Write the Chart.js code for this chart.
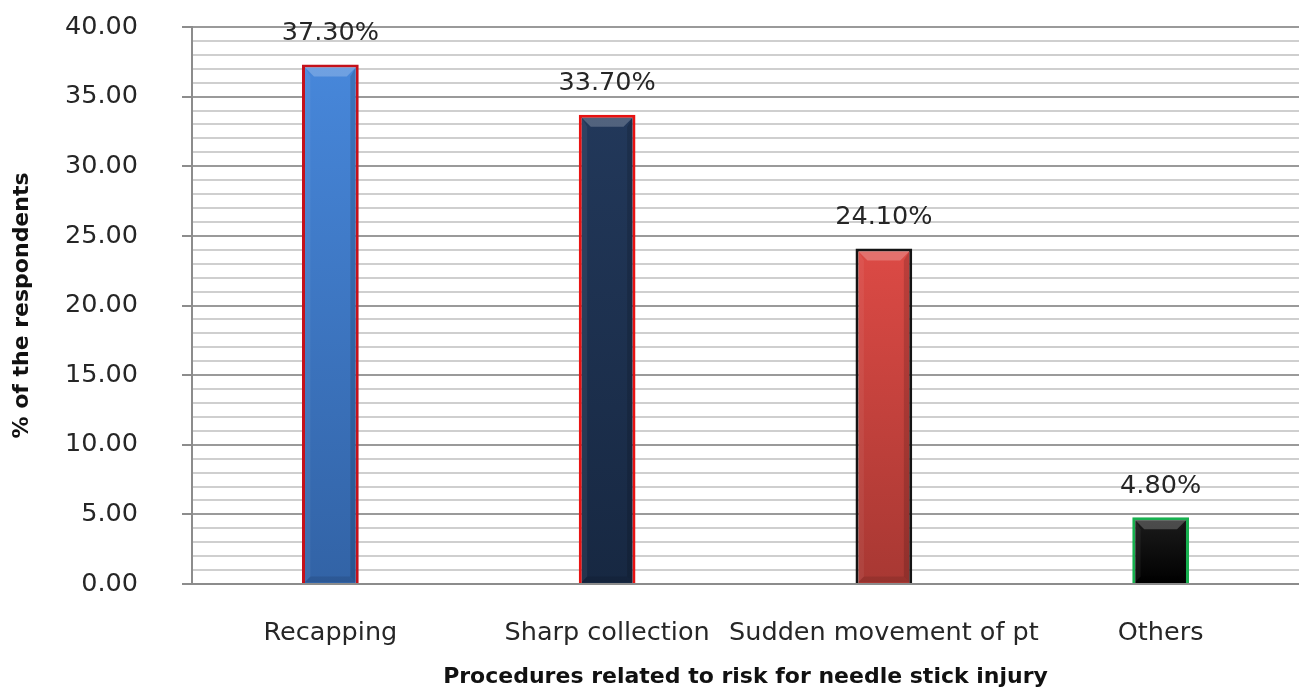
<!DOCTYPE html>
<html>
<head>
<meta charset="utf-8">
<script src="https://cdn.jsdelivr.net/npm/chart.js@4.4.1/dist/chart.umd.min.js"></script>
<style>
  html, body { margin: 0; padding: 0; background: #ffffff; }
  canvas { display: block; }
</style>
</head>
<body>
<canvas id="chart" width="1299" height="690"></canvas>
<script>
// Procedures related to risk for needle stick injury (% of respondents)
const categories = ['Recapping', 'Sharp collection', 'Sudden movement of pt', 'Others'];
const percentValues = [37.3, 33.7, 24.1, 4.8];
const valueLabels = ['37.30%', '33.70%', '24.10%', '4.80%'];

// y axis: 0 to 40, labelled every 5, minor lines every 1
const yMin = 0;
const yMax = 40;
const yMajorStep = 5;
const yMinorStep = 1;

// bar styling (top colour, bottom colour, border colour)
const barTopColors = ['#4787da', '#22385a', '#dc4a45', '#1c1c1c'];
const barBottomColors = ['#3263a6', '#172842', '#a83833', '#000000'];
const barBorderColors = ['#c4111b', '#e81212', '#141414', '#17b04f'];
const BAR_BORDER = 3;

const FONT = "'DejaVu Sans', sans-serif";

// light bevel on each bar, drawn on top of the fill
const bevelPlugin = {
  id: 'bevel',
  afterDatasetsDraw(chart) {
    const ctx = chart.ctx;
    const meta = chart.getDatasetMeta(0);
    meta.data.forEach((bar) => {
      const bw = BAR_BORDER;
      const left = bar.x - bar.width / 2 + bw;
      const right = bar.x + bar.width / 2 - bw;
      const top = bar.y + bw;
      const bottom = bar.base - 1;
      const b = Math.min(9, (bottom - top) / 2);
      ctx.save();
      // top facet
      ctx.fillStyle = 'rgba(255,255,255,0.22)';
      ctx.beginPath();
      ctx.moveTo(left, top);
      ctx.lineTo(right, top);
      ctx.lineTo(right - b, top + b);
      ctx.lineTo(left + b, top + b);
      ctx.closePath();
      ctx.fill();
      // left facet
      ctx.fillStyle = 'rgba(255,255,255,0.06)';
      ctx.beginPath();
      ctx.moveTo(left, top);
      ctx.lineTo(left + b * 0.6, top + b);
      ctx.lineTo(left + b * 0.6, bottom - b * 0.6);
      ctx.lineTo(left, bottom);
      ctx.closePath();
      ctx.fill();
      // right facet
      ctx.fillStyle = 'rgba(0,0,0,0.14)';
      ctx.beginPath();
      ctx.moveTo(right, top);
      ctx.lineTo(right - b * 0.6, top + b);
      ctx.lineTo(right - b * 0.6, bottom - b * 0.6);
      ctx.lineTo(right, bottom);
      ctx.closePath();
      ctx.fill();
      // bottom facet
      ctx.fillStyle = 'rgba(0,0,0,0.10)';
      ctx.beginPath();
      ctx.moveTo(left, bottom);
      ctx.lineTo(right, bottom);
      ctx.lineTo(right - b * 0.6, bottom - b * 0.6);
      ctx.lineTo(left + b * 0.6, bottom - b * 0.6);
      ctx.closePath();
      ctx.fill();
      ctx.restore();
    });
  }
};

// value labels above the bars
const valueLabelPlugin = {
  id: 'valueLabels',
  afterDatasetsDraw(chart) {
    const ctx = chart.ctx;
    const meta = chart.getDatasetMeta(0);
    ctx.save();
    ctx.font = '25.5px ' + FONT;
    ctx.fillStyle = '#262626';
    ctx.textAlign = 'center';
    ctx.textBaseline = 'middle';
    meta.data.forEach((bar, i) => {
      ctx.fillText(valueLabels[i], bar.x, bar.y - 31);
    });
    ctx.restore();
  }
};

// vertical gradient spanning each bar, from its value down to zero
function barGradient(context) {
  const chart = context.chart;
  const y = chart.scales.y;
  const i = context.dataIndex;
  if (!y || i === undefined) return barTopColors[0];
  const top = y.getPixelForValue(percentValues[i]);
  const bottom = y.getPixelForValue(0);
  if (!isFinite(top) || !isFinite(bottom) || top === bottom) return barTopColors[i];
  const g = chart.ctx.createLinearGradient(0, top, 0, bottom);
  g.addColorStop(0, barTopColors[i]);
  g.addColorStop(1, barBottomColors[i]);
  return g;
}

new Chart(document.getElementById('chart'), {
  type: 'bar',
  data: {
    labels: categories,
    datasets: [{
      data: percentValues,
      backgroundColor: barGradient,
      borderColor: barBorderColors,
      borderWidth: BAR_BORDER,
      borderSkipped: 'start',
      categoryPercentage: 1.0,
      barPercentage: 0.205
    }]
  },
  options: {
    responsive: false,
    animation: false,
    layout: { padding: { top: 27, right: 0, bottom: 0, left: 0 } },
    plugins: {
      legend: { display: false },
      tooltip: { enabled: false }
    },
    scales: {
      x: {
        grid: { display: false, drawTicks: false },
        border: { display: true, color: '#8c8c8c', width: 2 },
        ticks: {
          padding: 34,
          color: '#262626',
          font: { family: FONT, size: 25.5 },
          maxRotation: 0,
          autoSkip: false
        },
        title: {
          display: true,
          text: 'Procedures related to risk for needle stick injury',
          color: '#111111',
          font: { family: FONT, size: 22, weight: 'bold' },
          padding: { top: 0, bottom: 0 }
        },
        afterFit(scale) {
          scale.height = 106;
          scale.paddingLeft = 0;
          scale.paddingRight = 0;
        }
      },
      y: {
        min: yMin,
        max: yMax,
        grid: {
          color: (c) => (c.tick && c.tick.value % yMajorStep === 0) ? '#9a9a9a' : '#cfcfcf',
          lineWidth: 2,
          drawTicks: true,
          tickLength: 10,
          tickColor: (c) => (c.tick && c.tick.value % yMajorStep === 0) ? '#8c8c8c' : 'rgba(0,0,0,0)'
        },
        border: { display: true, color: '#8c8c8c', width: 2 },
        ticks: {
          stepSize: yMinorStep,
          autoSkip: false,
          padding: 44,
          color: '#262626',
          font: { family: FONT, size: 25.5 },
          callback: (v) => (v % yMajorStep === 0) ? Number(v).toFixed(2) : ''
        },
        title: {
          display: true,
          text: '% of the respondents',
          color: '#111111',
          font: { family: FONT, size: 22, weight: 'bold' },
          padding: { top: 9, bottom: 0 }
        },
        afterFit(scale) {
          scale.width = 192;
          scale.paddingTop = 0;
          scale.paddingBottom = 0;
        }
      }
    }
  },
  plugins: [bevelPlugin, valueLabelPlugin]
});
</script>
</body>
</html>
